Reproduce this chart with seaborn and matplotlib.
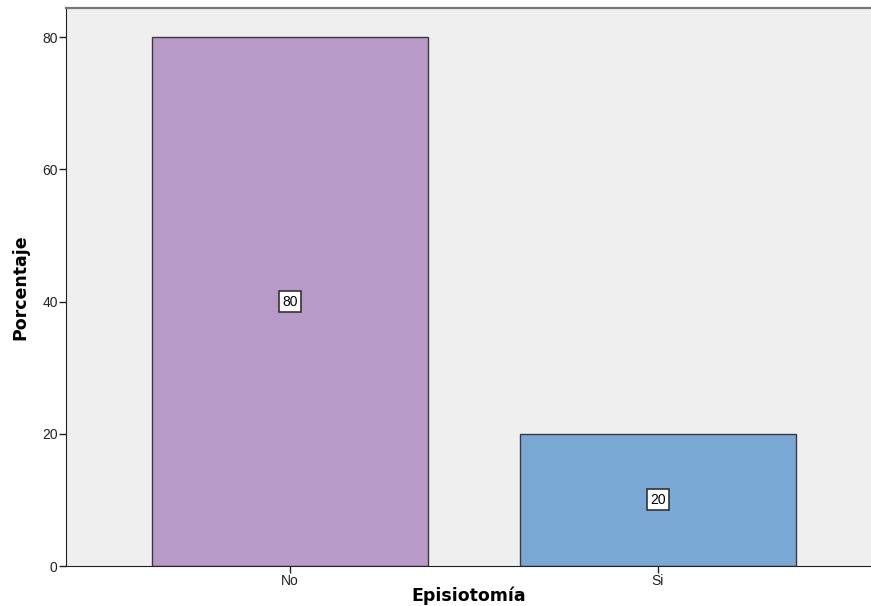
import matplotlib
matplotlib.use("Agg")
import matplotlib.pyplot as plt
import seaborn as sns
import pandas as pd

# datos del grafico
categorias = ["No", "Si"]
porcentajes = [80, 20]
colores = ["#B89AC9", "#79A8D5"]
yticks = [0, 20, 40, 60, 80]


def main():
    df = pd.DataFrame({"Episiotomía": categorias, "Porcentaje": porcentajes})

    sns.set_style("white")
    plt.rcParams["font.family"] = ["Liberation Sans", "DejaVu Sans"]
    plt.rcParams["text.color"] = "black"
    plt.rcParams["axes.labelcolor"] = "black"
    plt.rcParams["xtick.color"] = "#222222"
    plt.rcParams["ytick.color"] = "#222222"

    fig = plt.figure(figsize=(8.71, 6.06), dpi=100)
    ax = fig.add_axes([66 / 871, 40 / 606, 1 - 66 / 871, 558 / 606])
    ax.set_facecolor("#EFEFEF")

    sns.barplot(data=df, x="Episiotomía", y="Porcentaje", hue="Episiotomía",
                palette=colores, saturation=1, width=0.75,
                edgecolor="#3A3A3A", linewidth=1.0, legend=False, ax=ax)

    # etiquetas dentro de las barras
    for i, v in enumerate(porcentajes):
        ax.text(i, v / 2, str(v), ha="center", va="center", fontsize=10,
                bbox=dict(boxstyle="square,pad=0.25", facecolor="white",
                          edgecolor="#333333", linewidth=1.2))

    ax.set_xlim(-0.609, 1.579)
    ax.set_ylim(0, 84.4)
    ax.set_yticks(yticks)

    ax.spines["left"].set_color("#222222")
    ax.spines["bottom"].set_color("#222222")
    ax.spines["top"].set_color("#777777")
    ax.spines["top"].set_linewidth(1.6)
    ax.spines["right"].set_visible(False)
    ax.tick_params(axis="both", direction="out", length=5, width=1,
                   labelsize=10, pad=1, left=True, bottom=True)

    ax.set_xlabel("Episiotomía", fontsize=12.5, fontweight="bold",
                  family="DejaVu Sans")
    ax.xaxis.set_label_coords(0.5, -0.037)
    ax.set_ylabel("Porcentaje", fontsize=12.5, fontweight="bold",
                  family="DejaVu Sans", labelpad=9)

    fig.savefig("out.png", dpi=100)


if __name__ == '__main__':
    main()
